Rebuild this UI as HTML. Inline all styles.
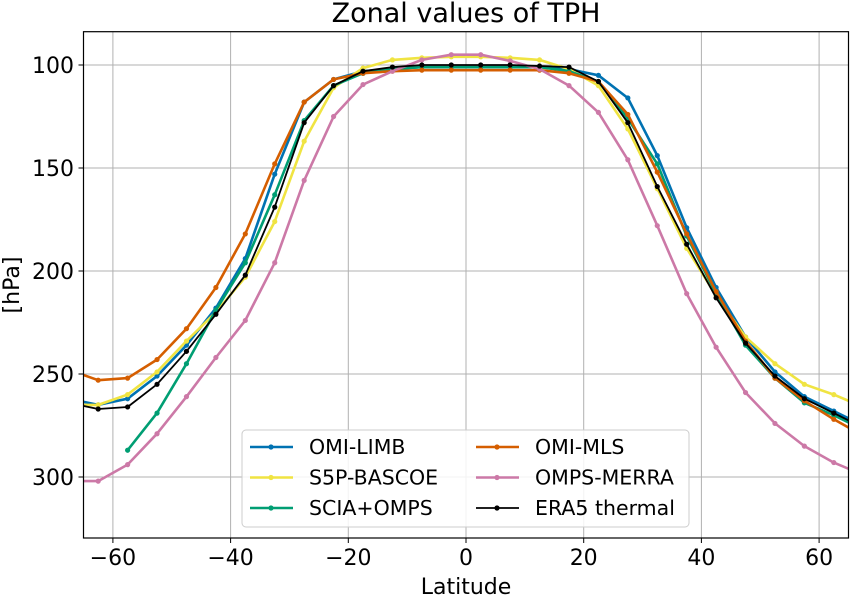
<!DOCTYPE html>
<html><head><meta charset="utf-8"><style>
body{margin:0;background:#fff;font-family:"Liberation Sans","DejaVu Sans",sans-serif}
svg{display:block}
text{font-family:"DejaVu Sans","Liberation Sans",sans-serif}
</style></head><body>
<svg id="chart" width="851" height="595">
<defs><clipPath id="clip"><rect x="83.5" y="31.7" width="765" height="506.3"/></clipPath></defs>
<g id="grid"></g>
<g id="series" clip-path="url(#clip)"></g>
<rect x="83.5" y="31.7" width="765" height="506.3" fill="none" stroke="#000" stroke-width="1.2"/>
<g id="ticks"></g>
<text x="466" y="22" font-size="27" text-anchor="middle">Zonal values of TPH</text>
<text x="466" y="594" font-size="22" text-anchor="middle">Latitude</text>
<text transform="translate(19,285) rotate(-90)" font-size="22" text-anchor="middle">[hPa]</text>
<g id="legend"></g>
</svg>
<script>
const lats = [-67.5,-62.5,-57.5,-52.5,-47.5,-42.5,-37.5,-32.5,-27.5,-22.5,-17.5,-12.5,-7.5,-2.5,2.5,7.5,12.5,17.5,22.5,27.5,32.5,37.5,42.5,47.5,52.5,57.5,62.5,67.5];
const omiLimb = [262,265,262,251,236,218,194,153,118,107,103,102,101,101,101,101,101,102,105,116,144,179,208,232,249,261,268,275];
const s5p = [265,265,260,249,234,220,203,176,137,111,101.5,97.5,96.5,96,96,96.5,97.5,102,110,131,160,189,212,232,245,255,260,266];
const sciaOmps = [null,null,287,269,245,219,196,163,127,110,104,102,101,101,101,101,101,103,108,126,148,183,211,236,252,264,270,277];
const omiMls = [248,253,252,243,228,208,182,148,118,107,104,103,102.5,102.5,102.5,102.5,102.5,104,108,124,152,182,210,234,252,263,272,280];
const ompsMerra = [302,302,294,279,261,242,224,196,156,125,109.5,103,97.5,95,95,98,102,110,123,146,178,211,237,259,274,285,293,299];
const era5 = [264,267,266,255,239,221,202,169,128,110,103,101,100,100,100,100,100.5,101,108,128,159,187,213,235,251,262,269,276];
const xTicks = [-60,-40,-20,0,20,40,60];
const yTicks = [100,150,200,250,300];
const names = ["OMI-LIMB","S5P-BASCOE","SCIA+OMPS","OMI-MLS","OMPS-MERRA","ERA5 thermal"];

const NS="http://www.w3.org/2000/svg";
function X(v){return 466+(v)*5.885;}
function Y(p){return 65+(p-100)*2.06;}
function mk(tag,attrs,parent){const e=document.createElementNS(NS,tag);for(const k in attrs)e.setAttribute(k,attrs[k]);parent.appendChild(e);return e;}
const grid=document.getElementById('grid'),ticks=document.getElementById('ticks');
xTicks.forEach(t=>{
  const l=mk('line',{x1:X(t),x2:X(t),y1:31.7,y2:538,stroke:'#b0b0b0','stroke-width':1},grid);
  
  
  mk('line',{x1:X(t),x2:X(t),y1:538,y2:543,stroke:'#000'},ticks);
  const tx=mk('text',{x:X(t),y:565,'font-size':22,'text-anchor':'middle'},ticks);
  tx.textContent=(t<0?'\u2212'+(-t):t);
  
  
});
yTicks.forEach(t=>{
  const l=mk('line',{x1:83.5,x2:848.5,y1:Y(t),y2:Y(t),stroke:'#b0b0b0','stroke-width':1},grid);
  
  
  mk('line',{x1:78.5,x2:83.5,y1:Y(t),y2:Y(t),stroke:'#000'},ticks);
  const tx=mk('text',{x:74,y:Y(t)+8,'font-size':22,'text-anchor':'end'},ticks);
  tx.textContent=t;
  
  
});
const series=[[omiLimb,'#0072B2',2.6],[s5p,'#F0E442',2.6],[sciaOmps,'#009E73',2.6],[omiMls,'#D55E00',2.6],[ompsMerra,'#CC79A7',2.6],[era5,'#000000',1.8]];
const sg=document.getElementById('series');
series.forEach((s,i)=>{
  const [vals,col,w]=s;
  const g=mk('g',{},sg);
  
  
  let d='';
  vals.forEach((v,j)=>{if(v==null)return;d+=(d?'L':'M')+X(lats[j]).toFixed(1)+','+Y(v).toFixed(1);});
  mk('path',{d:d,fill:'none',stroke:col,'stroke-width':w,'stroke-linejoin':'round'},g);
  vals.forEach((v,j)=>{if(v==null)return;
    const c=mk('circle',{cx:X(lats[j]),cy:Y(v),r:2.6,fill:col},g);
    
    
  });
});
const lg=document.getElementById('legend');
mk('rect',{x:242,y:430,width:447,height:97,rx:4,fill:'#fff','fill-opacity':0.85,stroke:'#ccc'},lg);
series.forEach((s,i)=>{
  const col=i<3?0:1,row=i%3;
  const y0=447+row*30.5;
  const lx=col?476:250;
  const e=mk('g',{},lg);
  
  
  mk('line',{x1:lx,x2:lx+43,y1:y0,y2:y0,stroke:s[1],'stroke-width':s[2]},e);
  mk('circle',{cx:lx+21,cy:y0,r:2.6,fill:s[1]},e);
  const t=mk('text',{x:lx+59,y:y0+7,'font-size':20.5},e);
  t.textContent=names[i];
});
</script>
</body></html>
